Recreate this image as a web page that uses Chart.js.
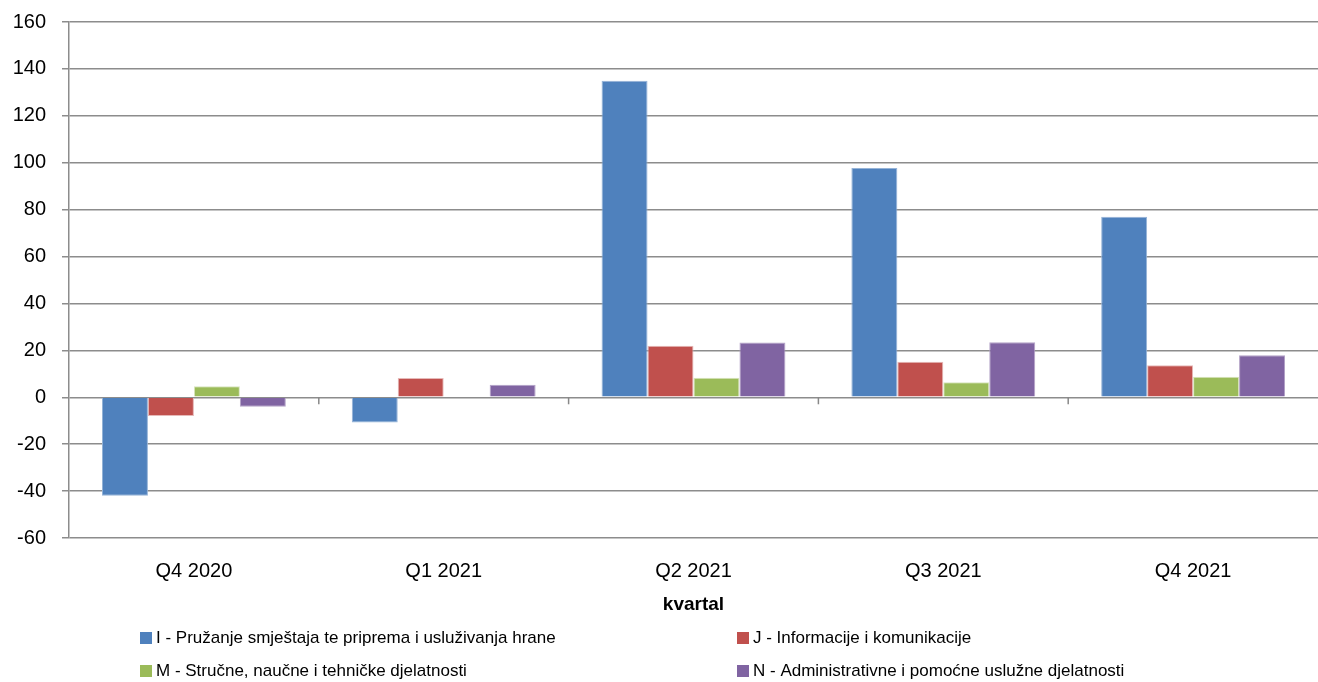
<!DOCTYPE html>
<html>
<head>
<meta charset="utf-8">
<script src="https://cdn.jsdelivr.net/npm/chart.js@4/dist/chart.umd.min.js"></script>
<style>
  html, body { margin: 0; padding: 0; background: #fff; }
  #wrap { width: 1318px; height: 682px; position: relative; }
</style>
</head>
<body>
<div id="wrap"><canvas id="myChart"></canvas></div>
<script>
// podaci
const kvartali = ['Q4 2020', 'Q1 2021', 'Q2 2021', 'Q3 2021', 'Q4 2021'];
const djelatnostI = [-42, -10.8, 135, 97.7, 77];
const djelatnostJ = [-8, 8.2, 22, 15.1, 13.7];
const djelatnostM = [4.7, 0, 8.3, 6.4, 8.8];
const djelatnostN = [-4, 5.3, 23.3, 23.5, 17.9];
const nazivi = [
  'I - Pružanje smještaja te priprema i usluživanja hrane',
  'J - Informacije i komunikacije',
  'M - Stručne, naučne i tehničke djelatnosti',
  'N - Administrativne i pomoćne uslužne djelatnosti'
];
const yTicks = { min: -60, max: 160, step: 20 };

const boje = ['#4F81BD', '#C0504D', '#9BBB59', '#8064A2'];
const rubovi = ['#95B3D7', '#E6B9B8', '#D7E4BD', '#B3A2C7'];
const FONT = 'Liberation Sans';

// crtice na nultoj liniji izmedju kategorija
const zeroTicks = {
  id: 'zeroTicks',
  afterDatasetsDraw(chart) {
    const { ctx, scales: { x, y } } = chart;
    const y0 = y.getPixelForValue(0);
    ctx.save();
    ctx.strokeStyle = '#888';
    ctx.lineWidth = 1.5;
    for (let i = 1; i < kvartali.length; i++) {
      const px = (x.getPixelForValue(i - 1) + x.getPixelForValue(i)) / 2;
      ctx.beginPath();
      ctx.moveTo(px, y0);
      ctx.lineTo(px, y0 + 7);
      ctx.stroke();
    }
    ctx.restore();
  }
};

// legenda u dvije kolone
const legenda = {
  id: 'legenda',
  afterDraw(chart) {
    const ctx = chart.ctx;
    const kolone = [140, 737];
    const redovi = [638, 671];
    ctx.save();
    ctx.font = '17px "' + FONT + '"';
    ctx.textBaseline = 'middle';
    chart.data.datasets.forEach((ds, i) => {
      const x = kolone[i % 2];
      const y = redovi[Math.floor(i / 2)];
      ctx.fillStyle = ds.backgroundColor;
      ctx.fillRect(x, y - 6, 12, 12);
      ctx.fillStyle = '#000';
      ctx.fillText(ds.label, x + 16, y);
    });
    ctx.restore();
  }
};

const serije = [djelatnostI, djelatnostJ, djelatnostM, djelatnostN];

const ctx = document.querySelector('#myChart');

new Chart(ctx, {
  type: 'bar',
  data: {
    labels: kvartali,
    datasets: serije.map((d, i) => ({
      label: nazivi[i],
      data: d,
      backgroundColor: boje[i],
      borderColor: rubovi[i],
      borderWidth: 1,
      barPercentage: 1,
      categoryPercentage: 0.736
    }))
  },
  options: {
    responsive: true,
    maintainAspectRatio: false,
    animation: false,
    layout: { padding: { top: 22, right: 0, bottom: 62, left: 0 } },
    plugins: {
      legend: { display: false },
      tooltip: { enabled: false }
    },
    scales: {
      x: {
        afterFit(scale) {
          scale.height = 82;
          scale.paddingLeft = 0;
          scale.paddingRight = 0;
        },
        grid: { display: false },
        border: { display: false },
        ticks: {
          color: '#000',
          padding: 13,
          font: { family: FONT, size: 20 }
        },
        title: {
          display: true,
          text: 'kvartal',
          color: '#000',
          padding: { top: 0, bottom: 4 },
          font: { family: FONT, size: 19, weight: 'bold' }
        }
      },
      y: {
        min: yTicks.min,
        max: yTicks.max,
        afterFit(scale) {
          scale.width = 69;
          scale.paddingTop = 0;
          scale.paddingBottom = 0;
        },
        ticks: {
          stepSize: yTicks.step,
          color: '#000',
          padding: 16,
          font: { family: FONT, size: 20 }
        },
        grid: {
          color: '#8c8c8c',
          lineWidth: 1.5,
          tickLength: 7
        },
        border: { display: true, color: '#8c8c8c', width: 1.5 }
      }
    }
  },
  plugins: [zeroTicks, legenda]
});
</script>
</body>
</html>
